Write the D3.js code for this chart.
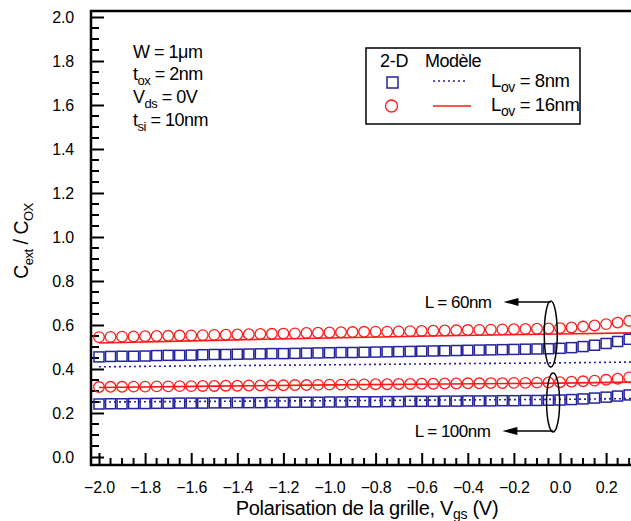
<!DOCTYPE html>
<html><head><meta charset="utf-8">
<script src="https://cdn.jsdelivr.net/npm/d3@7"></script>
<style>
html,body{margin:0;padding:0;background:#fff;}
svg{display:block;font-family:"Liberation Sans",Arial,sans-serif;}
</style></head>
<body>
<svg id="c" width="631" height="521"></svg>
<script>
// ---------- DATA ----------
const vgs = [-2.00,-1.95,-1.90,-1.85,-1.80,-1.75,-1.70,-1.65,-1.60,-1.55,-1.50,-1.45,-1.40,-1.35,-1.30,-1.25,-1.20,-1.15,-1.10,-1.05,-1.00,-0.95,-0.90,-0.85,-0.80,-0.75,-0.70,-0.65,-0.60,-0.55,-0.50,-0.45,-0.40,-0.35,-0.30,-0.25,-0.20,-0.15,-0.10,-0.05,0.00,0.05,0.10,0.15,0.20,0.25,0.30];
// 2-D simulation, L = 60nm
const sim60_Lov16 = [0.545,0.546,0.547,0.548,0.549,0.550,0.551,0.552,0.553,0.554,0.555,0.556,0.557,0.558,0.559,0.560,0.561,0.562,0.564,0.565,0.566,0.567,0.568,0.569,0.570,0.570,0.571,0.572,0.573,0.574,0.575,0.576,0.577,0.578,0.579,0.580,0.581,0.582,0.583,0.584,0.586,0.589,0.593,0.598,0.604,0.611,0.619];
const sim60_Lov8 = [0.455,0.457,0.458,0.458,0.459,0.461,0.462,0.462,0.463,0.465,0.466,0.466,0.467,0.468,0.469,0.470,0.470,0.471,0.472,0.473,0.474,0.475,0.475,0.476,0.477,0.478,0.479,0.480,0.481,0.482,0.483,0.484,0.485,0.486,0.487,0.488,0.489,0.490,0.491,0.492,0.494,0.497,0.502,0.508,0.516,0.525,0.535];
// 2-D simulation, L = 100nm
const sim100_Lov16 = [0.318,0.319,0.319,0.320,0.320,0.321,0.321,0.322,0.322,0.323,0.323,0.324,0.324,0.325,0.325,0.326,0.326,0.327,0.327,0.328,0.329,0.329,0.330,0.330,0.331,0.331,0.332,0.332,0.333,0.333,0.334,0.334,0.335,0.335,0.336,0.336,0.337,0.337,0.338,0.339,0.340,0.342,0.344,0.347,0.351,0.356,0.362];
const sim100_Lov8 = [0.241,0.242,0.242,0.243,0.243,0.244,0.244,0.245,0.245,0.245,0.246,0.246,0.247,0.247,0.247,0.248,0.248,0.249,0.249,0.249,0.250,0.250,0.251,0.251,0.251,0.252,0.252,0.253,0.253,0.253,0.254,0.254,0.255,0.255,0.255,0.256,0.256,0.257,0.257,0.258,0.259,0.261,0.264,0.268,0.272,0.277,0.282];
// Model curves
const modelV = [-2.0,-1.5,-1.0,-0.5,0.0,0.35];
const model60_Lov16 = [0.518,0.530,0.541,0.551,0.559,0.565];
const model60_Lov8 = [0.410,0.415,0.419,0.424,0.428,0.432];
const model100_Lov16 = [0.316,0.322,0.328,0.332,0.336,0.341];
const model100_Lov8 = [0.250,0.253,0.256,0.259,0.262,0.266];
// axis ticks
const xTicks = [-2.0,-1.8,-1.6,-1.4,-1.2,-1.0,-0.8,-0.6,-0.4,-0.2,0.0,0.2];
const yTicks = [0.0,0.2,0.4,0.6,0.8,1.0,1.2,1.4,1.6,1.8,2.0];
// annotations (data units)
const groupLabels = ["L = 60nm","L = 100nm"];
const ellipseV = [-0.04,-0.03];
const ellipseY = [[0.709,0.409],[0.382,0.114]];
const arrowTipV = [-0.245,-0.25];
const arrowY = [0.705,0.118];

// ---------- SCALES ----------
const BLUE = "#24249e", RED = "#ff1a1a";
const svg = d3.select("#c");
const x = d3.scaleLinear().domain([-2.0,0.0]).range([99,560]);
const y = d3.scaleLinear().domain([0,2.0]).range([457,17]);
const xLeft = x.invert(91), yBottom = y.invert(465), yTop = y.invert(11);

// ---------- AXES ----------
const xMinor = d3.range(-2.0,0.3501,0.05).map(v=>+v.toFixed(2)).filter(v=>!xTicks.some(t=>Math.abs(t-v)<1e-6));
const yMinor = d3.range(0,2.001,0.05).map(v=>+v.toFixed(2)).filter(v=>!yTicks.some(t=>Math.abs(t-v)<1e-6));

const gx = svg.append("g").attr("transform",`translate(0,${y(yBottom)})`);
gx.call(d3.axisBottom(x).tickValues(xTicks).tickSize(-12).tickPadding(17).tickFormat(d3.format(".1f")));
gx.call(g=>g.select(".domain").remove());
gx.selectAll(".tick line").attr("stroke","#000").attr("stroke-width",2);
gx.selectAll(".tick text").attr("font-size",16).attr("fill","#000").attr("font-family","Liberation Sans, Arial, sans-serif").attr("letter-spacing","-0.2");
gx.selectAll(".minor").data(xMinor).enter().append("line").attr("class","minor")
  .attr("x1",d=>x(d)).attr("x2",d=>x(d)).attr("y1",0).attr("y2",-7).attr("stroke","#000").attr("stroke-width",2);

const gy = svg.append("g").attr("transform",`translate(${x(xLeft)},0)`);
gy.call(d3.axisLeft(y).tickValues(yTicks).tickSize(-13).tickPadding(17).tickFormat(d3.format(".1f")));
gy.call(g=>g.select(".domain").remove());
gy.selectAll(".tick line").attr("stroke","#000").attr("stroke-width",2);
gy.selectAll(".tick text").attr("font-size",16).attr("fill","#000").attr("font-family","Liberation Sans, Arial, sans-serif").attr("letter-spacing","-0.2");
gy.selectAll(".minor").data(yMinor).enter().append("line").attr("class","minor")
  .attr("y1",d=>y(d)).attr("y2",d=>y(d)).attr("x1",0).attr("x2",8).attr("stroke","#000").attr("stroke-width",2);

// spines
svg.append("path").attr("fill","none").attr("stroke","#000").attr("stroke-width",2.5)
  .attr("d",`M640,${y(yTop)}H${x(xLeft)}V${y(yBottom)}H640`);

// ---------- MODEL LINES ----------
const line = d3.line().x((d,i)=>x(modelV[i])).y(d=>y(d));
const clip = svg.append("clipPath").attr("id","pc").append("rect")
  .attr("x",x(xLeft)+2).attr("y",y(yTop)+2).attr("width",700).attr("height",y(yBottom)-y(yTop)-4);
const plot = svg.append("g").attr("clip-path","url(#pc)");
[model60_Lov16, model100_Lov16].forEach(s=>plot.append("path").datum(s).attr("d",line)
  .attr("fill","none").attr("stroke",RED).attr("stroke-width",1.6));
[model60_Lov8, model100_Lov8].forEach(s=>plot.append("path").datum(s).attr("d",line)
  .attr("fill","none").attr("stroke",BLUE).attr("stroke-width",1.6).attr("stroke-dasharray","2,3"));

// ---------- SIMULATION MARKERS ----------
const sq = 10;
[sim60_Lov8, sim100_Lov8].forEach(s=>plot.append("g").selectAll("rect").data(s).enter().append("rect")
  .attr("x",(d,i)=>x(vgs[i])-sq/2).attr("y",d=>y(d)-sq/2).attr("width",sq).attr("height",sq)
  .attr("fill","none").attr("stroke",BLUE).attr("stroke-width",1.5));
[sim60_Lov16, sim100_Lov16].forEach(s=>plot.append("g").selectAll("circle").data(s).enter().append("circle")
  .attr("cx",(d,i)=>x(vgs[i])).attr("cy",d=>y(d)).attr("r",5.3)
  .attr("fill","none").attr("stroke",RED).attr("stroke-width",1.3));

// ---------- ANNOTATIONS ----------
groupLabels.forEach((lab,i)=>{
  const cx = x(ellipseV[i]), y1 = y(ellipseY[i][0]), y2 = y(ellipseY[i][1]);
  svg.append("ellipse").attr("cx",cx).attr("cy",(y1+y2)/2).attr("rx",6.5).attr("ry",(y2-y1)/2)
    .attr("fill","none").attr("stroke","#000").attr("stroke-width",1.5);
  const ay = y(arrowY[i]), tip = x(arrowTipV[i]);
  svg.append("line").attr("x1",tip+10).attr("x2",cx).attr("y1",ay).attr("y2",ay).attr("stroke","#000").attr("stroke-width",1.5);
  svg.append("path").attr("d",`M${tip},${ay}L${tip+15},${ay-4}L${tip+15},${ay+4}Z`).attr("fill","#000");
  svg.append("text").attr("x",tip-12).attr("y",ay+6).attr("text-anchor","end")
    .attr("font-size",17).attr("letter-spacing","-0.5").text(lab);
});

// parameter block
const params = [["W = 1μm",null,null],["t","ox"," = 2nm"],["V","ds"," = 0V"],["t","si"," = 10nm"]];
const paramY = [58,80,103,126];
params.forEach((p,i)=>{
  const t = svg.append("text").attr("x",133).attr("y",paramY[i]).attr("font-size",18).attr("letter-spacing","-0.5");
  t.append("tspan").text(p[0]);
  if(p[1]){
    t.append("tspan").attr("dy",5).attr("font-size",13).text(p[1]);
    t.append("tspan").attr("dy",-5).text(p[2]);
  }
});

// legend
const lg = svg.append("g");
lg.append("rect").attr("x",366).attr("y",48).attr("width",214).attr("height",76).attr("fill","#fff").attr("stroke","#000").attr("stroke-width",1.5);
lg.append("text").attr("x",380).attr("y",67).attr("font-size",18).attr("letter-spacing","-0.3").text("2-D");
lg.append("text").attr("x",425).attr("y",67).attr("font-size",18).attr("letter-spacing","-0.5").text("Modèle");
lg.append("rect").attr("x",387).attr("y",77).attr("width",11).attr("height",11).attr("fill","none").attr("stroke",BLUE).attr("stroke-width",1.5);
lg.append("line").attr("x1",433).attr("x2",468).attr("y1",81).attr("y2",81).attr("stroke",BLUE).attr("stroke-width",1.6).attr("stroke-dasharray","2,3");
lg.append("circle").attr("cx",391.5).attr("cy",106).attr("r",6).attr("fill","none").attr("stroke",RED).attr("stroke-width",1.3);
lg.append("line").attr("x1",433).attr("x2",471).attr("y1",106).attr("y2",106).attr("stroke",RED).attr("stroke-width",1.6);
[["8nm",87],["16nm",111]].forEach(([v,yy])=>{
  const t = lg.append("text").attr("x",491).attr("y",yy).attr("font-size",18.5).attr("letter-spacing","-0.4");
  t.append("tspan").text("L");
  t.append("tspan").attr("dy",5).attr("font-size",14).text("ov");
  t.append("tspan").attr("dy",-5).text(" = "+v);
});

// axis titles
const xt = svg.append("text").attr("x",367).attr("y",515).attr("text-anchor","middle").attr("font-size",20).attr("letter-spacing","-0.3");
xt.append("tspan").text("Polarisation de la grille, V");
xt.append("tspan").attr("dy",4).attr("font-size",14).text("gs");
xt.append("tspan").attr("dy",-4).text(" (V)");

const yt = svg.append("text").attr("transform","translate(28,241) rotate(-90)").attr("text-anchor","middle").attr("font-size",19.5).attr("letter-spacing","-0.5");
yt.append("tspan").text("C");
yt.append("tspan").attr("dy",5).attr("font-size",13).text("ext");
yt.append("tspan").attr("dy",-5).text(" / C");
yt.append("tspan").attr("dy",5).attr("font-size",13).text("OX");
</script>
</body></html>
